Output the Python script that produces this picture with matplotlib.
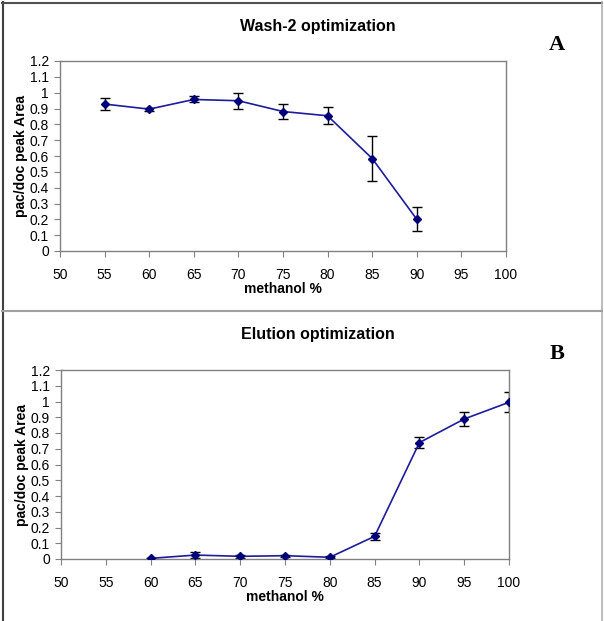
import matplotlib
matplotlib.use("Agg")
import matplotlib.pyplot as plt
from matplotlib.lines import Line2D

# Panel A: Wash-2 optimization
wash_x = [55, 60, 65, 70, 75, 80, 85, 90]
wash_y = [0.928, 0.896, 0.957, 0.949, 0.881, 0.854, 0.584, 0.200]
wash_err = [0.036, 0.010, 0.019, 0.052, 0.046, 0.054, 0.143, 0.076]

# Panel B: Elution optimization
elu_x = [60, 65, 70, 75, 80, 85, 90, 95, 100]
elu_y = [0.004, 0.025, 0.017, 0.021, 0.011, 0.144, 0.739, 0.889, 0.995]
elu_err = [0.004, 0.017, 0.008, 0.007, 0.005, 0.024, 0.035, 0.042, 0.063]

x_ticks = [50, 55, 60, 65, 70, 75, 80, 85, 90, 95, 100]
y_ticks = [0, 0.1, 0.2, 0.3, 0.4, 0.5, 0.6, 0.7, 0.8, 0.9, 1, 1.1, 1.2]
y_ticklabels = ["0", "0.1", "0.2", "0.3", "0.4", "0.5", "0.6", "0.7", "0.8", "0.9", "1", "1.1", "1.2"]

plt.rcParams['font.family'] = ['Liberation Sans', 'DejaVu Sans']

W, H = 604, 621
fig = plt.figure(figsize=(W / 100, H / 100), dpi=100)

def px(x0, y0, x1, y1):
    return [x0 / W, 1 - y1 / H, (x1 - x0) / W, (y1 - y0) / H]

panels = [
    dict(rect=px(60, 61, 506, 251), x=wash_x, y=wash_y, e=wash_err,
         title="Wash-2 optimization", title_y=27, letter="A", letter_y=45),
    dict(rect=px(61, 370, 509, 559), x=elu_x, y=elu_y, e=elu_err,
         title="Elution optimization", title_y=335, letter="B", letter_y=354),
]

for p in panels:
    ax = fig.add_axes(p["rect"])
    ax.errorbar(p["x"], p["y"], yerr=p["e"], fmt='none', ecolor='black',
                elinewidth=1.0, capsize=3.5, capthick=1.0, zorder=2)
    ax.plot(p["x"], p["y"], color='#1c1c9c', lw=1.2, marker='D', ms=4,
            mfc='#00007a', mec='#00007a', zorder=3)
    ax.set_xlim(50, 100)
    ax.set_ylim(0, 1.2)
    ax.set_xticks(x_ticks)
    ax.set_yticks(y_ticks)
    ax.set_yticklabels(y_ticklabels)
    for s in ax.spines.values():
        s.set_color('#808080')
        s.set_linewidth(1.0)
    ax.tick_params(direction='out', length=4, width=0.8, color='#808080',
                   labelsize=10)
    ax.tick_params(axis='x', pad=8)
    ax.tick_params(axis='y', pad=4)
    ax.set_xlabel("methanol %", fontsize=10, fontweight='bold', labelpad=0)
    ax.set_ylabel("pac/doc peak Area", fontsize=10, fontweight='bold', labelpad=1)
    fig.text(318 / W, 1 - p["title_y"] / H, p["title"], ha='center', va='center',
             fontsize=11.5, fontweight='bold')
    fig.text(557 / W, 1 - p["letter_y"] / H, p["letter"], ha='center', va='center',
             fontsize=16, fontweight='bold', family='Liberation Serif')

# panel borders
def fline(xs, ys, color, lw):
    fig.add_artist(Line2D([x / W for x in xs], [1 - y / H for y in ys],
                          color=color, lw=lw, transform=fig.transFigure))

fline([2.5, 2.5], [2, 621], '#404040', 1.5)
fline([2, 602], [2.5, 2.5], '#505050', 1.5)
fline([601.5, 601.5], [2, 621], '#b0b0b0', 1.2)
fline([2, 602], [310.5, 310.5], '#a0a0a0', 1.5)

fig.savefig("out.png", dpi=100)
